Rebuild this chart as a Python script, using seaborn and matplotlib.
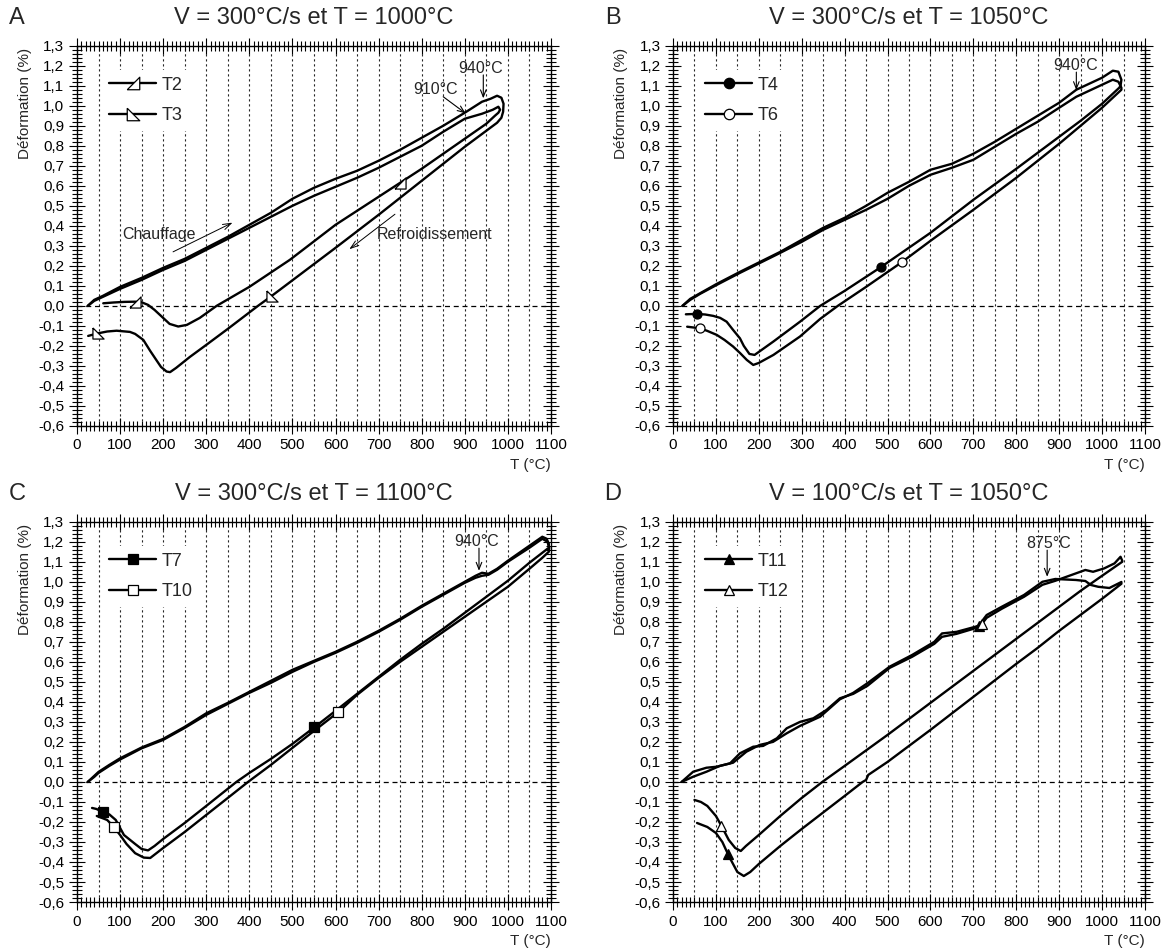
import numpy as np
import matplotlib
matplotlib.use("Agg")
import matplotlib.pyplot as plt
import seaborn as sns
from matplotlib.ticker import MultipleLocator, FuncFormatter
from matplotlib.lines import Line2D

sns.set_style("ticks")
plt.rcParams['font.family'] = ['Liberation Sans', 'DejaVu Sans']

# ---- Panel A : V = 300 C/s, T = 1000 C ----
t2_heat_T = [25, 40, 60, 100, 150, 200, 250, 300, 350, 400, 450, 500, 550, 600, 650, 700, 750, 800, 850, 900, 940, 965, 978, 982, 978]
t2_heat_e = [0, 0.025, 0.045, 0.085, 0.13, 0.18, 0.225, 0.28, 0.335, 0.39, 0.445, 0.5, 0.55, 0.595, 0.64, 0.69, 0.745, 0.8, 0.87, 0.935, 0.96, 0.98, 0.995, 0.98, 0.965]
t2_cool_T = [970, 950, 900, 850, 800, 750, 700, 600, 494, 400, 324, 285, 255, 235, 215, 200, 180, 165, 150, 135, 110, 85, 61]
t2_cool_e = [0.95, 0.91, 0.835, 0.76, 0.685, 0.615, 0.545, 0.405, 0.23, 0.095, 0.0, -0.06, -0.095, -0.103, -0.09, -0.06, -0.02, 0.005, 0.018, 0.021, 0.02, 0.017, 0.013]
t2_marks = [750, 135]

t3_heat_T = [25, 40, 60, 100, 150, 200, 250, 300, 350, 400, 450, 500, 550, 600, 650, 700, 750, 800, 850, 900, 940, 960, 975, 985, 990, 989]
t3_heat_e = [0, 0.03, 0.05, 0.095, 0.14, 0.19, 0.235, 0.29, 0.345, 0.405, 0.465, 0.535, 0.59, 0.635, 0.675, 0.725, 0.78, 0.84, 0.9, 0.965, 1.02, 1.035, 1.05, 1.04, 1.01, 0.97]
t3_cool_T = [985, 975, 950, 900, 850, 800, 750, 700, 600, 494, 452, 420, 350, 300, 262, 230, 216, 208, 195, 184, 170, 154, 135, 123, 92, 70, 49, 26]
t3_cool_e = [0.94, 0.915, 0.875, 0.795, 0.71, 0.625, 0.54, 0.455, 0.29, 0.118, 0.05, 0.0, -0.115, -0.195, -0.255, -0.31, -0.331, -0.328, -0.305, -0.27, -0.225, -0.17, -0.14, -0.13, -0.124, -0.128, -0.137, -0.15]
t3_marks = [452, 49]

# ---- Panel B : V = 300 C/s, T = 1050 C ----
t4_heat_T = [22, 40, 63, 102, 156, 203, 250, 300, 350, 400, 450, 500, 550, 600, 650, 700, 750, 800, 850, 900, 940, 1000, 1025, 1038, 1045, 1043]
t4_heat_e = [0, 0.035, 0.063, 0.11, 0.17, 0.22, 0.27, 0.33, 0.39, 0.44, 0.5, 0.565, 0.62, 0.68, 0.71, 0.76, 0.82, 0.885, 0.95, 1.015, 1.08, 1.14, 1.175, 1.17, 1.13, 1.1]
t4_cool_T = [1040, 1000, 950, 900, 850, 800, 700, 600, 484, 400, 343, 296, 234, 200, 190, 178, 165, 156, 140, 125, 110, 94, 75, 55, 30]
t4_cool_e = [1.09, 1.01, 0.925, 0.845, 0.765, 0.685, 0.53, 0.365, 0.193, 0.075, 0.0, -0.079, -0.178, -0.23, -0.245, -0.24, -0.2, -0.162, -0.12, -0.079, -0.06, -0.05, -0.043, -0.04, -0.042]
t4_marks = [484, 55]

t6_heat_T = [22, 40, 63, 102, 156, 203, 250, 300, 350, 400, 450, 500, 550, 600, 650, 700, 750, 800, 850, 900, 940, 1000, 1025, 1038, 1045]
t6_heat_e = [0, 0.03, 0.06, 0.105, 0.165, 0.215, 0.265, 0.32, 0.38, 0.43, 0.48, 0.535, 0.6, 0.655, 0.69, 0.73, 0.795, 0.86, 0.92, 0.99, 1.045, 1.105, 1.13, 1.12, 1.09]
t6_cool_T = [1045, 1020, 1000, 950, 900, 850, 800, 700, 600, 533, 450, 384, 343, 296, 234, 200, 187, 172, 156, 140, 120, 102, 80, 63, 33]
t6_cool_e = [1.08, 1.03, 0.99, 0.9, 0.81, 0.725, 0.64, 0.48, 0.325, 0.218, 0.095, 0.0, -0.065, -0.153, -0.245, -0.285, -0.295, -0.27, -0.235, -0.203, -0.17, -0.145, -0.125, -0.112, -0.104]
t6_marks = [533, 63]

# ---- Panel C : V = 300 C/s, T = 1100 C ----
t7_heat_T = [25, 40, 50, 75, 100, 150, 200, 250, 300, 350, 400, 450, 500, 550, 600, 650, 700, 750, 800, 850, 900, 925, 940, 955, 975, 1000, 1050, 1080, 1090, 1095]
t7_heat_e = [0, 0.03, 0.05, 0.085, 0.118, 0.172, 0.215, 0.275, 0.343, 0.395, 0.45, 0.505, 0.56, 0.605, 0.65, 0.7, 0.755, 0.815, 0.88, 0.94, 1.0, 1.03, 1.045, 1.04, 1.065, 1.105, 1.18, 1.225, 1.215, 1.19]
t7_cool_T = [1095, 1080, 1050, 1000, 950, 900, 850, 800, 750, 700, 650, 600, 551, 500, 450, 400, 370, 300, 250, 200, 180, 165, 150, 135, 109, 90, 75, 61, 45, 35]
t7_cool_e = [1.17, 1.145, 1.095, 1.005, 0.925, 0.845, 0.765, 0.69, 0.61, 0.525, 0.44, 0.355, 0.273, 0.19, 0.115, 0.045, 0.0, -0.12, -0.205, -0.285, -0.32, -0.342, -0.335, -0.31, -0.265, -0.19, -0.162, -0.151, -0.135, -0.13]
t7_marks = [551, 61]

t10_heat_T = [25, 40, 50, 75, 100, 150, 200, 250, 300, 350, 400, 450, 500, 550, 600, 650, 700, 750, 800, 850, 900, 925, 940, 955, 975, 1000, 1050, 1080, 1092, 1096]
t10_heat_e = [0, 0.025, 0.045, 0.08, 0.112, 0.168, 0.21, 0.27, 0.335, 0.39, 0.445, 0.495, 0.55, 0.6, 0.645, 0.695, 0.75, 0.81, 0.875, 0.935, 0.995, 1.02, 1.03, 1.035, 1.06, 1.1, 1.17, 1.215, 1.2, 1.17]
t10_cool_T = [1095, 1080, 1050, 1000, 950, 900, 850, 800, 750, 700, 650, 606, 550, 500, 450, 397, 350, 300, 250, 200, 170, 155, 135, 115, 100, 85, 70, 46]
t10_cool_e = [1.15, 1.12, 1.065, 0.975, 0.9, 0.825, 0.75, 0.675, 0.6, 0.52, 0.435, 0.348, 0.255, 0.17, 0.085, 0.0, -0.08, -0.165, -0.25, -0.33, -0.38, -0.378, -0.356, -0.31, -0.265, -0.223, -0.19, -0.17]
t10_marks = [606, 85]

# ---- Panel D : V = 100 C/s, T = 1050 C ----
t11_heat_T = [20, 47, 78, 109, 140, 171, 202, 233, 265, 296, 343, 389, 420, 453, 505, 557, 609, 627, 661, 704, 712, 731, 766, 818, 861, 891, 939, 961, 974, 991, 1017, 1045]
t11_heat_e = [0, 0.026, 0.051, 0.08, 0.096, 0.151, 0.185, 0.2, 0.243, 0.28, 0.326, 0.413, 0.445, 0.493, 0.576, 0.634, 0.7, 0.742, 0.75, 0.775, 0.78, 0.834, 0.875, 0.934, 1.0, 1.014, 1.009, 1.004, 0.984, 0.975, 0.969, 0.999]
t11_cool_T = [1045, 1000, 950, 900, 850, 800, 700, 600, 500, 455, 450, 442, 400, 300, 250, 200, 180, 165, 150, 135, 128, 115, 100, 80, 56]
t11_cool_e = [0.99, 0.915, 0.835, 0.755, 0.67, 0.59, 0.425, 0.26, 0.1, 0.035, 0.01, 0.0, -0.07, -0.235, -0.32, -0.41, -0.45, -0.47, -0.45, -0.39, -0.36, -0.3, -0.255, -0.225, -0.205]
t11_marks = [712, 128]

t12_heat_T = [20, 47, 78, 102, 133, 156, 187, 210, 242, 265, 296, 327, 358, 389, 420, 453, 505, 557, 609, 627, 661, 700, 720, 731, 766, 818, 861, 891, 939, 961, 979, 1005, 1029, 1043, 1047]
t12_heat_e = [0, 0.051, 0.071, 0.076, 0.093, 0.143, 0.176, 0.18, 0.218, 0.268, 0.3, 0.318, 0.36, 0.418, 0.44, 0.48, 0.57, 0.625, 0.69, 0.725, 0.74, 0.765, 0.79, 0.82, 0.865, 0.925, 0.985, 1.005, 1.042, 1.059, 1.05, 1.067, 1.092, 1.125, 1.105]
t12_cool_T = [1047, 1000, 950, 900, 850, 800, 700, 600, 500, 400, 348, 300, 250, 200, 170, 158, 145, 130, 113, 100, 80, 65, 50]
t12_cool_e = [1.1, 1.03, 0.955, 0.875, 0.795, 0.715, 0.555, 0.395, 0.235, 0.08, 0.0, -0.08, -0.17, -0.265, -0.32, -0.345, -0.33, -0.29, -0.22, -0.17, -0.12, -0.1, -0.09]
t12_marks = [720, 113]

tri_a = [(-1, -1), (1, -1), (1, 1), (-1, -1)]
tri_b = [(-1, 1), (-1, -1), (1, -1), (-1, 1)]

panels = [
    dict(letter='A', title='V = 300°C/s et T = 1000°C',
         tests=[('T2', t2_heat_T, t2_heat_e, t2_cool_T, t2_cool_e, t2_marks, tri_a, 'white', 8),
                ('T3', t3_heat_T, t3_heat_e, t3_cool_T, t3_cool_e, t3_marks, tri_b, 'white', 8)]),
    dict(letter='B', title='V = 300°C/s et T = 1050°C',
         tests=[('T4', t4_heat_T, t4_heat_e, t4_cool_T, t4_cool_e, t4_marks, 'o', 'black', 6.5),
                ('T6', t6_heat_T, t6_heat_e, t6_cool_T, t6_cool_e, t6_marks, 'o', 'white', 6.5)]),
    dict(letter='C', title='V = 300°C/s et T = 1100°C',
         tests=[('T7', t7_heat_T, t7_heat_e, t7_cool_T, t7_cool_e, t7_marks, 's', 'black', 6.5),
                ('T10', t10_heat_T, t10_heat_e, t10_cool_T, t10_cool_e, t10_marks, 's', 'white', 6.5)]),
    dict(letter='D', title='V = 100°C/s et T = 1050°C',
         tests=[('T11', t11_heat_T, t11_heat_e, t11_cool_T, t11_cool_e, t11_marks, '^', 'black', 6.5),
                ('T12', t12_heat_T, t12_heat_e, t12_cool_T, t12_cool_e, t12_marks, '^', 'white', 6.5)]),
]

# temperature callouts: (text, text_x, text_y, arrow_from, arrow_to)
callouts = {
    'A': [('910°C', 833, 1.082, (850, 1.045), (902, 0.962)),
          ('940°C', 937, 1.187, (943, 1.154), (943, 1.037))],
    'B': [('940°C', 938, 1.2, (940, 1.168), (940, 1.078))],
    'C': [('940°C', 928, 1.2, (933, 1.168), (933, 1.055))],
    'D': [('875°C', 875, 1.19, (872, 1.158), (872, 1.025))],
}

positions = {
    'A': [0.0659, 0.5516, 0.4058, 0.4003],
    'B': [0.5762, 0.5516, 0.4041, 0.4003],
    'C': [0.0659, 0.0505, 0.4058, 0.4003],
    'D': [0.5762, 0.0505, 0.4041, 0.4003],
}


def comma_fmt(v, pos):
    if abs(v) < 1e-9:
        v = 0.0
    return f"{v:.1f}".replace('.', ',')


fig = plt.figure(figsize=(11.68, 9.5), dpi=100)

for p in panels:
    ax = fig.add_axes(positions[p['letter']])
    ax.set_xlim(0, 1100)
    ax.set_ylim(-0.6, 1.3)

    # dotted verticals every 50 C and dashed zero line
    for gx in np.arange(50, 1100, 50):
        ax.axvline(gx, color='0.15', lw=0.8, ls=(0, (2, 2.5)), zorder=0.5)
    ax.axhline(0, color='black', lw=0.9, ls=(0, (4, 3)), zorder=0.6)

    handles = []
    for label, hT, he, cT, ce, marks, mk, mfc, ms in p['tests']:
        T = np.concatenate([hT, cT])
        e = np.concatenate([he, ce])
        idx = []
        for m in marks:
            if m in cT:
                idx.append(len(hT) + cT.index(m))
            else:
                idx.append(hT.index(m))
        sns.lineplot(x=T, y=e, sort=False, estimator=None, ax=ax,
                     color='black', lw=1.7, marker=mk, markevery=idx,
                     ms=ms, mfc=mfc, mec='black', mew=0.9, zorder=3)
        handles.append(Line2D([], [], color='black', lw=1.7, marker=mk,
                              ms=ms + 1, mfc=mfc, mec='black', mew=0.9, label=label))

    leg = ax.legend(handles=handles, loc='upper left', bbox_to_anchor=(0.055, 0.935),
                    borderaxespad=0, fontsize=13, handlelength=2.6, handletextpad=0.3,
                    labelspacing=0.75, borderpad=0.35, frameon=True, fancybox=False,
                    framealpha=1, facecolor='white', edgecolor='none')
    leg.set_zorder(2)

    ax.xaxis.set_major_locator(MultipleLocator(100))
    ax.xaxis.set_minor_locator(MultipleLocator(10))
    ax.yaxis.set_major_locator(MultipleLocator(0.1))
    ax.yaxis.set_minor_locator(MultipleLocator(0.02))
    ax.yaxis.set_major_formatter(FuncFormatter(comma_fmt))
    ax.tick_params(which='both', direction='inout', top=True, right=True,
                   colors='black', width=0.8, labelsize=11)
    ax.tick_params(which='major', length=12, pad=3)
    ax.tick_params(which='minor', length=7)
    for s in ax.spines.values():
        s.set_linewidth(1.0)
        s.set_color('black')

    ax.set_ylabel('Déformation (%)', fontsize=11, loc='top')
    ax.yaxis.set_label_coords(-0.095, 0.995)
    ax.set_xlabel('T (°C)', fontsize=11, loc='right')
    ax.xaxis.set_label_coords(1.0, -0.083)

    ax.text(0.5, 1.073, p['title'], transform=ax.transAxes, ha='center', va='center', fontsize=17)
    ax.text(-0.127, 1.073, p['letter'], transform=ax.transAxes, ha='center', va='center', fontsize=17)

    for txt, tx, ty, a0, a1 in callouts[p['letter']]:
        ax.text(tx, ty, txt, ha='center', va='center', fontsize=11.5, zorder=4)
        ax.annotate('', xy=a1, xytext=a0,
                    arrowprops=dict(arrowstyle='->,head_length=0.5,head_width=0.2',
                                    lw=0.8, color='black', shrinkA=0, shrinkB=0), zorder=4)

    if p['letter'] == 'A':
        ax.text(190, 0.355, 'Chauffage', ha='center', va='center', fontsize=11.5, zorder=4)
        ax.annotate('', xy=(361, 0.416), xytext=(223, 0.27),
                    arrowprops=dict(arrowstyle='->,head_length=0.6,head_width=0.2',
                                    lw=0.7, color='black', shrinkA=0, shrinkB=0))
        ax.text(831, 0.358, 'Refroidissement', ha='center', va='center', fontsize=11.5, zorder=4)
        ax.annotate('', xy=(632, 0.283), xytext=(738, 0.458),
                    arrowprops=dict(arrowstyle='->,head_length=0.6,head_width=0.2',
                                    lw=0.7, color='black', shrinkA=0, shrinkB=0))

fig.savefig('out.png', dpi=100, facecolor='white')
